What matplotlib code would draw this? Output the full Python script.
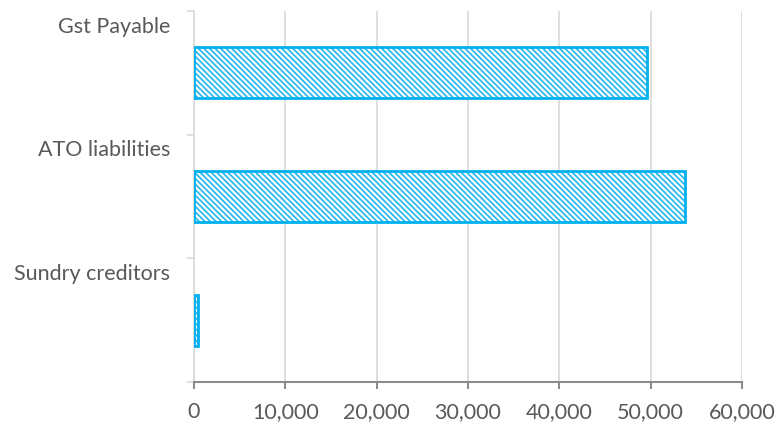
import matplotlib.pyplot as plt
import matplotlib.transforms as mtransforms
from matplotlib.ticker import FuncFormatter

plt.rcParams['font.family'] = ['Lato', 'DejaVu Sans']
plt.rcParams['hatch.linewidth'] = 1.2

# liabilities, bottom to top
categories = ['Sundry creditors', 'ATO liabilities', 'Gst Payable']
amounts = [400, 53800, 49600]
x_ticks = [0, 10000, 20000, 30000, 40000, 50000, 60000]

fig = plt.figure(figsize=(7.78, 4.27), dpi=100)
ax = fig.add_axes([0.2494, 0.103, 0.7043, 0.869])

ax.barh(range(len(categories)), amounts, height=0.41, color='white',
        edgecolor='#22B5F0', linewidth=0, hatch='\\' * 6, zorder=3)
# hatch is drawn in the edge colour, so redraw the outline on top
ax.barh(range(len(categories)), amounts, height=0.41, fill=False,
        edgecolor='#00B0F0', linewidth=2, zorder=4)

ax.set_xlim(0, 60000)
ax.set_ylim(-0.5, len(categories) - 0.5)
ax.set_xticks(x_ticks)
ax.xaxis.set_major_formatter(FuncFormatter(lambda v, p: f'{int(v):,}'))
ax.set_yticks([i - 0.5 for i in range(len(categories) + 1)])
ax.set_yticklabels([])

ax.grid(axis='x', color='#D9D9D9', linewidth=1.2, zorder=0)
ax.set_axisbelow(True)
for side in ['top', 'right']:
    ax.spines[side].set_visible(False)
ax.spines['left'].set_color('#D9D9D9')
ax.spines['left'].set_linewidth(1.2)
ax.spines['bottom'].set_color('#8C8C8C')
ax.spines['bottom'].set_linewidth(1.5)
ax.tick_params(axis='x', length=5, width=1.5, color='#8C8C8C',
               labelsize=15.5, labelcolor='#595959', pad=9)
ax.tick_params(axis='y', length=5, width=1.2, color='#D9D9D9')

# category names sit above each bar, right-aligned to the axis
trans = mtransforms.blended_transform_factory(ax.transAxes, ax.transData)
for i, name in enumerate(categories):
    ax.text(-0.044, i + 0.38, name, transform=trans, ha='right', va='center',
            fontsize=15.5, color='#595959')

fig.savefig('out.png', dpi=100)
